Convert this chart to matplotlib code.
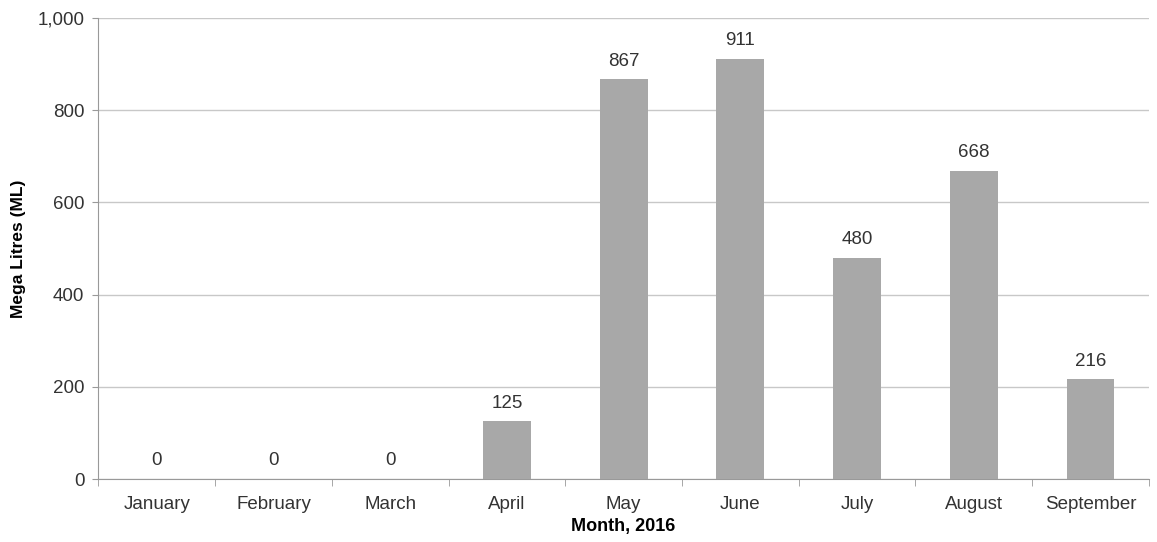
import numpy as np
import matplotlib
matplotlib.use('Agg')
import matplotlib.pyplot as plt
from matplotlib.ticker import FuncFormatter, FixedLocator

matplotlib.rcParams['font.family'] = ['Liberation Sans', 'DejaVu Sans']

months = ['January', 'February', 'March', 'April', 'May', 'June',
          'July', 'August', 'September']
volumes = [0, 0, 0, 125, 867, 911, 480, 668, 216]

fig = plt.figure(figsize=(11.57, 5.42), dpi=100)
ax = fig.add_axes([0.085, 0.116, 0.908, 0.851])

x = np.arange(len(months))
bars = ax.bar(x, volumes, width=0.41, color='#a8a8a8', zorder=3)

for bar, v in zip(bars, volumes):
    ax.annotate(f'{v}', xy=(bar.get_x() + bar.get_width() / 2, v),
                xytext=(0, 7), textcoords='offset points',
                ha='center', va='bottom', fontsize=13.5, color='#333333')

ax.set_xlim(-0.5, len(months) - 0.5)
ax.set_ylim(0, 1000)
ax.set_yticks(np.arange(0, 1001, 200))
ax.yaxis.set_major_formatter(FuncFormatter(lambda v, p: f'{int(v):,}'))
ax.set_xticks(x)
ax.set_xticklabels(months, fontsize=13.5, color='#333333')
ax.tick_params(axis='x', length=0, pad=12)
ax.xaxis.set_minor_locator(FixedLocator(np.arange(-0.5, len(months), 1)))
ax.tick_params(axis='x', which='minor', length=5, color='#999999')
ax.tick_params(axis='y', labelsize=13.5, labelcolor='#333333', length=4,
               color='#999999', pad=6)

ax.grid(axis='y', color='#c8c8c8', linewidth=1, zorder=0)
for side in ['top', 'right']:
    ax.spines[side].set_visible(False)
for side in ['left', 'bottom']:
    ax.spines[side].set_color('#999999')

ax.set_ylabel('Mega Litres (ML)', fontsize=12.5, fontweight='bold', labelpad=8)
ax.set_xlabel('Month, 2016', fontsize=13, fontweight='bold', labelpad=4)

plt.savefig('out.png', dpi=100)
